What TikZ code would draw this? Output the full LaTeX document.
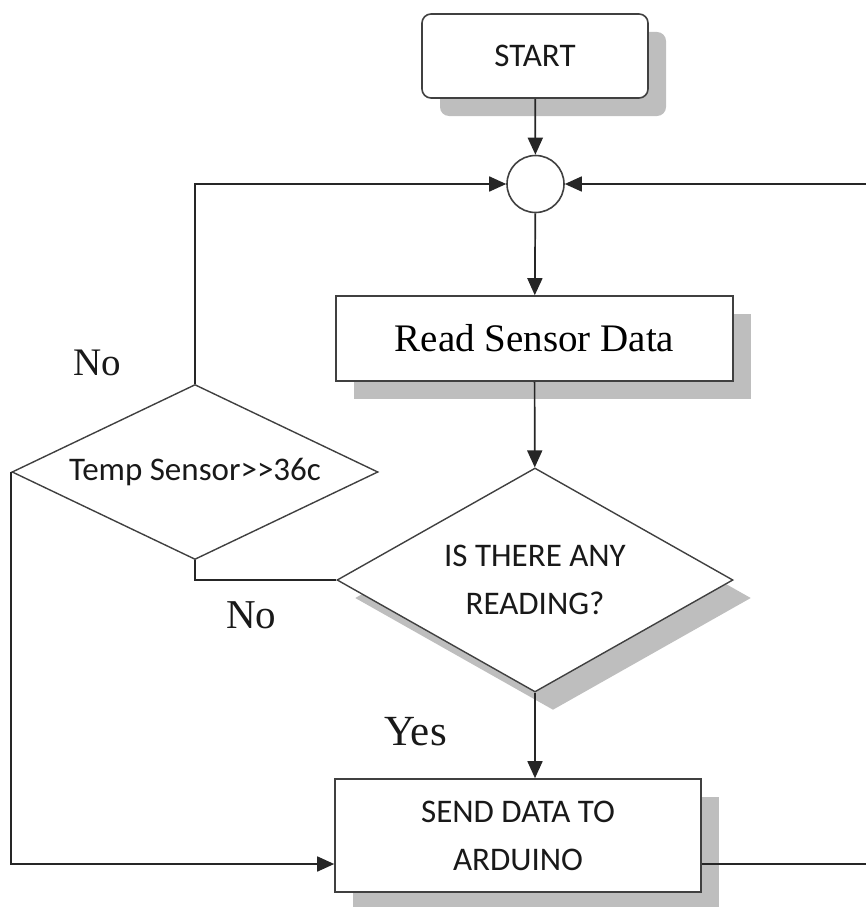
\documentclass[tikz,border=0pt]{standalone}
\usepackage{fontspec}
\setmainfont{Liberation Serif}
\newfontfamily\calib{Carlito}
\usetikzlibrary{shapes.geometric,arrows.meta,shadows}

\definecolor{shgray}{HTML}{BEBEBE}
\definecolor{edge}{HTML}{404040}

\tikzset{
  every node/.style={inner sep=0pt},
  shadowed/.style={drop shadow={shadow xshift=18pt, shadow yshift=-18pt, opacity=1, fill=shgray}},
  box/.style={draw=edge, line width=1.6pt, fill=white, shadowed},
  startbox/.style={box, rounded corners=9pt},
  decision/.style={diamond, draw=edge, line width=1.4pt, fill=white, align=center},
  junction/.style={circle, draw=edge, line width=1.6pt, fill=white, minimum size=57pt},
  capstext/.style={font=\calib\fontsize{33}{48}\selectfont, text=black!90, align=center},
  serif/.style={font=\fontsize{39}{44}\selectfont, text=black!90},
  flow/.style={line width=1.7pt, draw=black!85, -{Triangle[length=17pt,width=15pt]}},
  plain/.style={line width=1.7pt, draw=black!85},
}

\begin{document}
\begin{tikzpicture}[x=1pt,y=-1pt]
  \useasboundingbox (0,0) rectangle (866,907);

  % process boxes
  \node[startbox, capstext, minimum width=226pt, minimum height=84pt] (start) at (535,56) {START};
  \node[junction] (join) at (535.5,184) {};
  \node[box, minimum width=397pt, minimum height=85pt,
        font=\fontsize{39}{44}\selectfont] (read) at (534.5,338.5) {Read Sensor Data};
  \node[decision, capstext, shadowed, shape aspect=1.77,
        minimum width=396pt, minimum height=224pt] (reading) at (535,580)
        {IS THERE ANY\\READING?};
  \node[decision, capstext, shape aspect=2.09,
        minimum width=366pt, minimum height=175pt] (temp) at (195,472)
        {Temp Sensor>>36c};
  \node[box, capstext, minimum width=366pt, minimum height=113pt] (send) at (518,835.5)
        {SEND DATA TO\\ARDUINO};

  % free ends on the right edge
  \coordinate (backin) at (866,184);
  \coordinate (backout) at (866,864);

  % connectors
  \draw[flow] (start) -- (join);
  \draw[flow] (join) -- (read);
  \draw[flow] (read) -- (reading);
  \draw[flow] (reading.south) -- (reading.south |- send.north);
  \draw[flow] (backin) -- (join);
  \draw[flow] (temp.north) |- (join.west);
  \draw[plain] (temp.south) |- (reading.west);
  \draw[flow] (temp.west) |- (send.west |- 0,864);
  \draw[plain] (send.east |- 0,864) -- (backout);

  % branch labels
  \node[serif, anchor=base west] (no1) at (73,375) {No};
  \node[serif, anchor=base west, font=\fontsize{41}{44}\selectfont] (no2) at (226,628) {No};
  \node[serif, anchor=base west, font=\fontsize{43}{44}\selectfont] (yes) at (384,745) {Yes};
\end{tikzpicture}
\end{document}
